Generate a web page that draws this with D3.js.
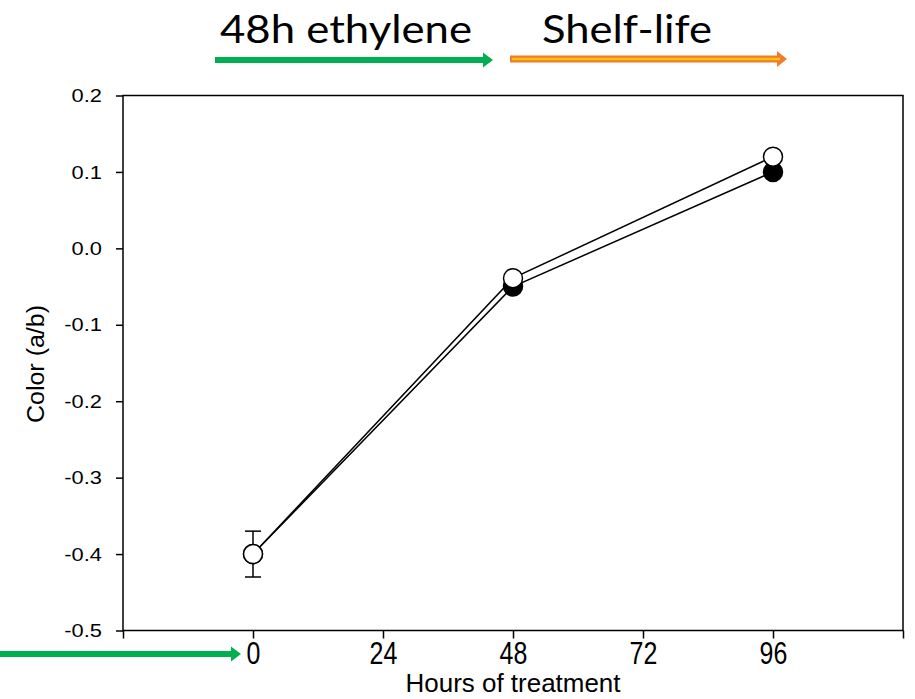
<!DOCTYPE html>
<html>
<head>
<meta charset="utf-8">
<script src="https://cdn.jsdelivr.net/npm/d3@7"></script>
<style>
  body { margin: 0; background: #fff; }
  svg { display: block; }
</style>
</head>
<body>
<svg width="915" height="699"></svg>
<script>
// data
const hours = [0, 48, 96];
const colorFilled = [-0.40, -0.05, 0.10];
const colorOpen = [-0.40, -0.039, 0.12];
const errOpen = [0.03, 0, 0];
const xTickValues = [-24, 0, 24, 48, 72, 96, 120];
const xTickLabels = ['', '0', '24', '48', '72', '96', ''];
const yTickValues = [-0.5, -0.4, -0.3, -0.2, -0.1, 0.0, 0.1, 0.2];

const svg = d3.select('svg');
const FONT = 'Liberation Sans, Arial, sans-serif';
const L = 123, R = 903, T = 95.5, B = 630.5;
const x = d3.scaleLinear().domain([-24, 120]).range([L, R]);
const y = d3.scaleLinear().domain([-0.5, 0.2]).range([B, T]);

// frame
svg.append('rect').attr('x', L).attr('y', T).attr('width', R - L).attr('height', B - T)
  .attr('fill', 'none').attr('stroke', '#000').attr('stroke-width', 1.5);

// y axis (labels a bit wide, as in the picture)
const ya = svg.append('g').attr('transform', `translate(${L},0)`)
  .call(d3.axisLeft(y).tickValues(yTickValues).tickFormat(d => d3.format('.1f')(d).replace('−', '-')).tickSize(7));
ya.select('.domain').remove();
ya.selectAll('line').attr('stroke-width', 1.5);
ya.selectAll('text').attr('x', 0).attr('transform', 'translate(-21,0) scale(1.15,1)')
  .style('font-family', FONT).style('font-size', '19px').attr('fill', '#000');

// x axis (narrow labels)
const xa = svg.append('g').attr('transform', `translate(0,${B})`)
  .call(d3.axisBottom(x).tickValues(xTickValues).tickFormat((d, i) => xTickLabels[i]).tickSize(8).tickPadding(4));
xa.select('.domain').remove();
xa.selectAll('line').attr('stroke-width', 1.5);
xa.selectAll('text').attr('transform', 'scale(0.78,1)').attr('dy', '0.68em')
  .style('font-family', FONT).style('font-size', '32px').attr('fill', '#000');

svg.append('text').attr('x', 513).attr('y', 692).attr('text-anchor', 'middle')
  .style('font-family', FONT).style('font-size', '25px')
  .attr('textLength', 215).attr('lengthAdjust', 'spacingAndGlyphs')
  .text('Hours of treatment');
svg.append('text').attr('transform', `translate(44,364) rotate(-90)`).attr('text-anchor', 'middle')
  .style('font-family', FONT).style('font-size', '23px')
  .attr('textLength', 118).attr('lengthAdjust', 'spacingAndGlyphs')
  .text('Color (a/b)');

// error bars
const cap = 8;
hours.forEach((h, i) => {
  if (!errOpen[i]) return;
  const cx = x(h), y1 = y(colorOpen[i] + errOpen[i]), y2 = y(colorOpen[i] - errOpen[i]);
  svg.append('line').attr('x1', cx).attr('x2', cx).attr('y1', y1).attr('y2', y2).attr('stroke', '#000').attr('stroke-width', 1.5);
  [y1, y2].forEach(v => svg.append('line').attr('x1', cx - cap).attr('x2', cx + cap).attr('y1', v).attr('y2', v)
    .attr('stroke', '#000').attr('stroke-width', 1.5));
});

const series = [[colorFilled, '#000'], [colorOpen, '#fff']];
const line = d3.line().x((d, i) => x(hours[i])).y(d => y(d));
series.forEach(([vals]) => {
  svg.append('path').attr('d', line(vals)).attr('fill', 'none').attr('stroke', '#000').attr('stroke-width', 1.5);
});
series.forEach(([vals, fill]) => {
  svg.selectAll(null).data(vals).enter().append('circle')
    .attr('cx', (d, i) => x(hours[i])).attr('cy', d => y(d)).attr('r', 9.5)
    .attr('fill', fill).attr('stroke', '#000').attr('stroke-width', 1.5);
});

// top annotations
function arrow(x1, x2, yy, th, color) {
  const hw = 9, hl = 10;
  svg.append('path')
    .attr('d', `M${x1},${yy - th / 2}H${x2 - hl}V${yy - hw / 2 - th / 2}L${x2},${yy}L${x2 - hl},${yy + hw / 2 + th / 2}V${yy + th / 2}H${x1}Z`)
    .attr('fill', color);
}
arrow(215, 493, 60, 6, '#00b050');
arrow(510, 787, 59, 7, '#ed7d31');
svg.append('path').attr('d', `M512,59H780`).attr('stroke', '#ffc000').attr('stroke-width', 2.5);
arrow(0, 241, 654, 6, '#00b050');

svg.append('text').attr('x', 220).attr('y', 43).style('font-family', 'Lato, Calibri, sans-serif')
  .style('font-size', '38px').attr('textLength', 252).attr('lengthAdjust', 'spacingAndGlyphs').text('48h ethylene');
svg.append('text').attr('x', 542).attr('y', 43).style('font-family', 'Lato, Calibri, sans-serif')
  .style('font-size', '38px').attr('textLength', 170).attr('lengthAdjust', 'spacingAndGlyphs').text('Shelf-life');
</script>
</body>
</html>
